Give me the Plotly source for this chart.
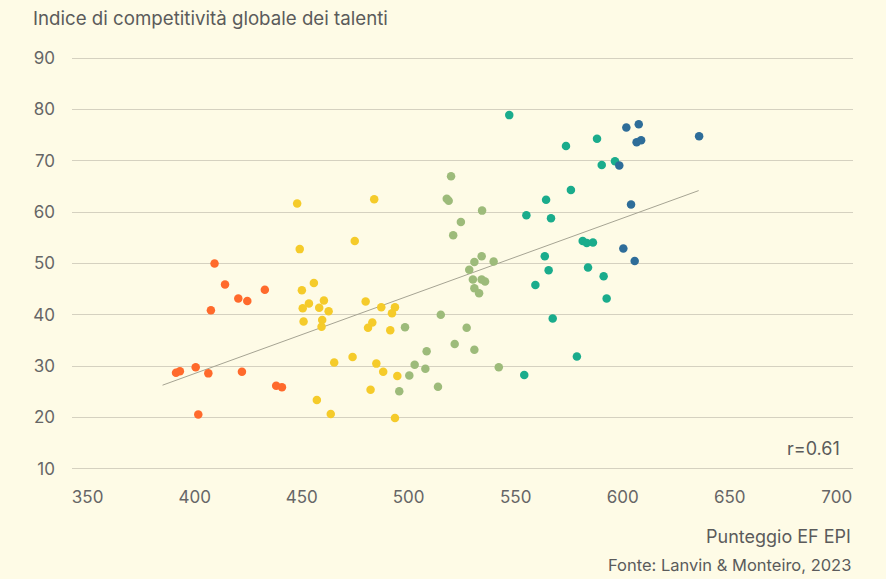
import plotly.graph_objects as go

# EF EPI score (x) vs Global Talent Competitiveness Index (y), grouped by proficiency band
orange_x = [409.3, 414.2, 420.4, 424.6, 432.8, 407.6, 391.3, 393.1, 400.5, 406.4, 422.1, 438.1, 440.8, 401.7]
orange_y = [50.0, 45.9, 43.2, 42.7, 44.9, 40.9, 28.7, 29.0, 29.8, 28.6, 28.9, 26.2, 25.9, 20.6]

yellow_x = [449.1, 455.7, 450.1, 453.4, 460.4, 450.5, 458.2, 462.6, 450.9, 459.6, 459.3, 465.2, 457.1,
            463.6, 447.9, 483.9, 474.8, 479.9, 487.2, 493.6, 492.2, 483.0, 481.0, 491.4, 473.8, 484.9,
            488.1, 494.7, 482.2, 493.6]
yellow_y = [52.8, 46.2, 44.8, 42.2, 42.8, 41.3, 41.4, 40.7, 38.7, 39.0, 37.7, 30.7, 23.4,
            20.7, 61.7, 62.5, 54.4, 42.6, 41.5, 41.5, 40.3, 38.5, 37.5, 37.0, 31.8, 30.5,
            28.9, 28.1, 25.4, 19.9]

green_x = [519.8, 517.8, 518.7, 534.3, 524.4, 520.8, 534.1, 530.7, 539.7, 528.3, 530.0, 534.1, 535.7,
           530.7, 532.9, 515.0, 498.3, 527.1, 521.5, 530.7, 508.4, 502.8, 507.8, 542.1, 500.3, 495.6, 513.7]
green_y = [67.0, 62.6, 62.2, 60.3, 58.1, 55.5, 51.4, 50.3, 50.4, 48.8, 46.9, 46.9, 46.5,
           45.2, 44.2, 40.0, 37.6, 37.5, 34.3, 33.2, 32.9, 30.3, 29.5, 29.8, 28.2, 25.1, 26.0]

teal_x = [547.0, 573.5, 588.0, 590.2, 596.4, 575.8, 564.2, 555.0, 566.5, 581.3, 583.2, 586.1,
          563.6, 565.4, 583.8, 559.2, 591.1, 592.5, 567.3, 578.6, 554.0]
teal_y = [78.9, 72.9, 74.3, 69.2, 69.9, 64.3, 62.4, 59.4, 58.8, 54.4, 54.0, 54.1,
          51.4, 48.7, 49.2, 45.8, 47.5, 43.2, 39.3, 31.9, 28.3]

blue_x = [601.7, 607.5, 606.5, 608.6, 635.7, 598.4, 603.9, 600.3, 605.6]
blue_y = [76.5, 77.1, 73.6, 74.0, 74.8, 69.1, 61.5, 52.9, 50.5]

# trend line endpoints
trend_x = [385.0, 635.5]
trend_y = [26.3, 64.2]

x_ticks = [350, 400, 450, 500, 550, 600, 650, 700]
y_ticks = [10, 20, 30, 40, 50, 60, 70, 80, 90]

groups = [
    (orange_x, orange_y, "#ff6a2c"),
    (yellow_x, yellow_y, "#f5cb2a"),
    (green_x, green_y, "#9dbb7a"),
    (teal_x, teal_y, "#1aac8c"),
    (blue_x, blue_y, "#2e6d99"),
]

FONT = "Inter, 'Noto Sans', sans-serif"
TXT = "#5b5b5b"
BG = "#fefbe6"

fig = go.Figure()

fig.add_trace(go.Scatter(
    x=trend_x, y=trend_y, mode="lines",
    line=dict(color="#a6a493", width=1),
    hoverinfo="skip", showlegend=False
))

for xs, ys, col in groups:
    fig.add_trace(go.Scatter(
        x=xs, y=ys, mode="markers",
        marker=dict(size=8.5, color=col, line=dict(width=0)),
        showlegend=False
    ))

fig.update_layout(
    width=886, height=579,
    paper_bgcolor=BG, plot_bgcolor=BG,
    margin=dict(l=72, r=33, t=53, b=105),
    font=dict(family=FONT, size=17, color=TXT),
    showlegend=False,
    xaxis=dict(
        range=[342.7, 707.6], tickvals=x_ticks,
        showgrid=False, zeroline=False, showline=False,
        ticks="", ticklabelstandoff=11,
        tickfont=dict(size=17, color="#666666"),
    ),
    yaxis=dict(
        range=[9, 91], tickvals=y_ticks,
        showgrid=True, gridcolor="#d5d1c0", gridwidth=1.3,
        zeroline=False, showline=False,
        ticks="", ticklabelstandoff=16,
        tickfont=dict(size=17, color="#666666"),
    ),
    annotations=[
        dict(text="Indice di competitività globale dei talenti",
             xref="paper", yref="paper", x=-0.0525, y=1.083,
             xanchor="left", yanchor="middle", showarrow=False,
             font=dict(size=18.7, color=TXT)),
        dict(text="r=0.61",
             xref="paper", yref="paper", x=0.986, y=0.060,
             xanchor="right", yanchor="middle", showarrow=False,
             font=dict(size=18, color=TXT)),
        dict(text="Punteggio EF EPI",
             xref="paper", yref="paper", x=1.0, y=-0.148,
             xanchor="right", yanchor="middle", showarrow=False,
             font=dict(size=18, color=TXT)),
        dict(text="Fonte: Lanvin & Monteiro, 2023",
             xref="paper", yref="paper", x=1.0, y=-0.217,
             xanchor="right", yanchor="middle", showarrow=False,
             font=dict(size=16.5, color=TXT)),
    ],
)

# drop the default 8px body margin so the figure sits flush in the window
fig.write_html("out.html",
               config={"displayModeBar": False},
               post_script="document.body.style.margin='0';"
                           "document.body.style.background='" + BG + "';")
